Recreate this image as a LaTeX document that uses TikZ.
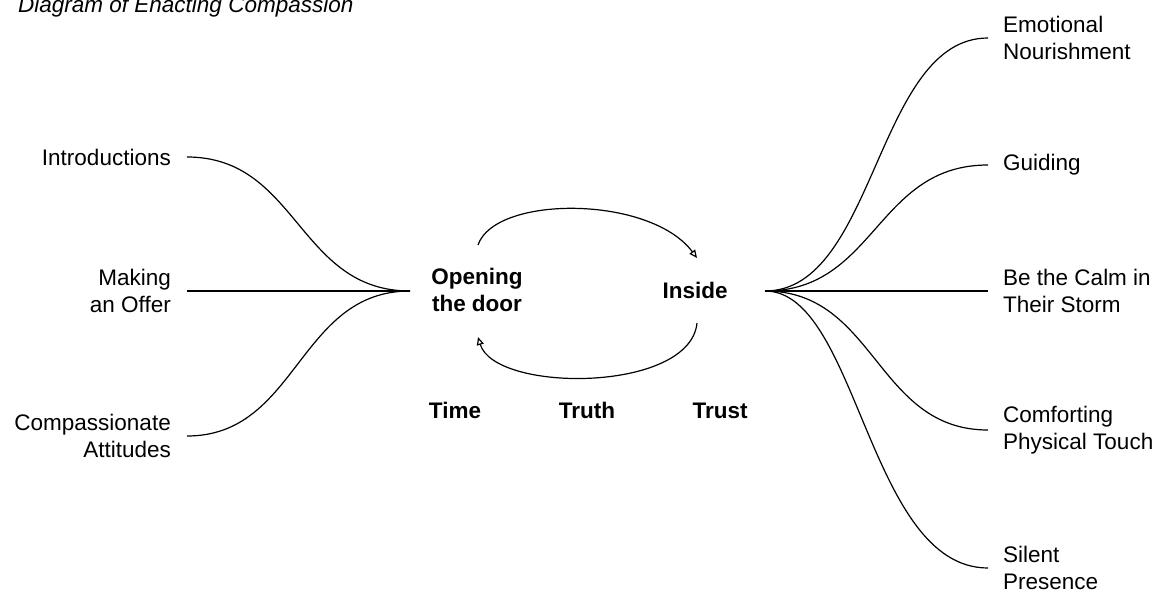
\documentclass[tikz,border=0pt]{standalone}
\usepackage{fontspec}
\setmainfont{Liberation Sans}
\usetikzlibrary{arrows.meta}
\begin{document}
\begin{tikzpicture}[x=1pt,y=-1pt,
  every node/.style={font=\fontsize{22.5}{27.5}\selectfont},
  leftlab/.style={anchor=east,align=right,inner xsep=16pt,inner ysep=2pt},
  rightlab/.style={anchor=west,align=left,inner xsep=15pt,inner ysep=2pt},
  hublab/.style={font=\fontsize{22.5}{27.5}\selectfont\bfseries,align=center,inner sep=0pt},
  link/.style={draw=black,line width=1.2pt},
  cyc/.style={draw=black,line width=1.2pt,-{Triangle[open,length=8pt,width=7pt]}}]
\useasboundingbox (0,0) rectangle (1158,591);
% title
\node[anchor=base west,inner sep=0pt,font=\fontsize{22.5}{27.5}\selectfont\itshape] (title) at (18,13) {Diagram of Enacting Compassion};
% hubs
\coordinate (lhub) at (410,291);
\coordinate (rhub) at (765,291);
\node[hublab] (open) at (477,290) {Opening\\the door};
\node[hublab] (inside) at (695,290) {Inside};
\node[hublab,anchor=base] (time) at (455,418) {Time};
\node[hublab,anchor=base] (truth) at (587,418) {Truth};
\node[hublab,anchor=base] (trust) at (720,418) {Trust};
% left labels
\node[leftlab] (intro) at (187,157) {Introductions};
\node[leftlab] (offer) at (187,291) {Making\\an Offer};
\node[leftlab] (attit) at (187,436) {Compassionate\\Attitudes};
% right labels
\node[rightlab] (emo) at (988,38) {Emotional\\Nourishment};
\node[rightlab] (guid) at (988,165) {Guiding};
\node[rightlab] (calm) at (988,291) {Be the Calm in\\Their Storm};
\node[rightlab] (touch) at (988,430) {Comforting\\Physical Touch};
\node[rightlab] (silent) at (988,568) {Silent\\Presence};
% left connectors
\draw[link] (intro.east) .. controls (298,157) and (298,291) .. (lhub);
\draw[link] (offer.east) -- (lhub);
\draw[link] (attit.east) .. controls (298,436) and (298,291) .. (lhub);
% right connectors
\draw[link] (rhub) .. controls (876,291) and (876,38) .. (emo.west);
\draw[link] (rhub) .. controls (876,291) and (876,165) .. (guid.west);
\draw[link] (rhub) -- (calm.west);
\draw[link] (rhub) .. controls (876,291) and (876,430) .. (touch.west);
\draw[link] (rhub) .. controls (858,291) and (868,568) .. (silent.west);
% cycle arrows
\coordinate (t1) at (478,245);
\coordinate (t2) at (697,258);
\coordinate (b1) at (697,323);
\coordinate (b2) at (478,337);
\draw[cyc] (t1) .. controls (495,195) and (650,195) .. (t2);
\draw[cyc] (b1) .. controls (690,393) and (495,393) .. (b2);
\end{tikzpicture}
\end{document}
